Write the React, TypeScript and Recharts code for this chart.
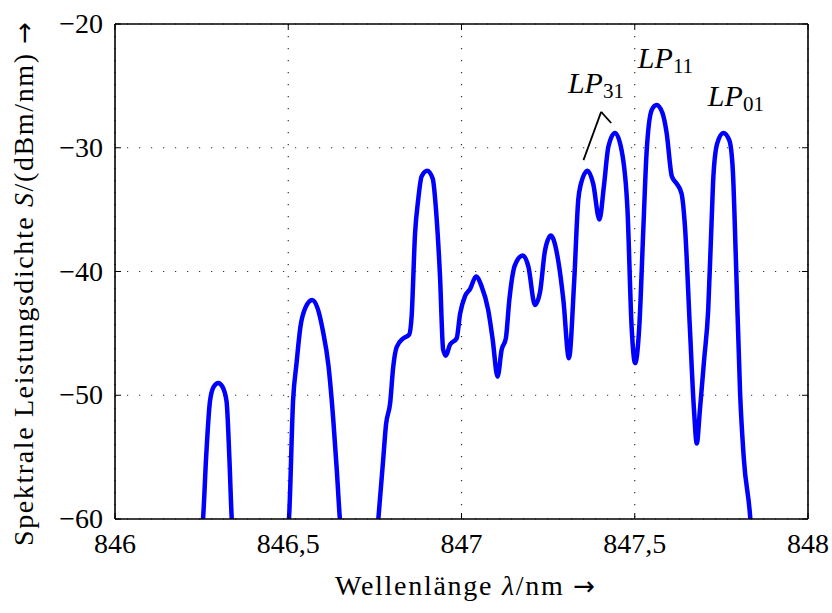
import { LineChart, Line, XAxis, YAxis, CartesianGrid, ReferenceLine, ReferenceDot } from 'recharts';

const FONT = '"Liberation Serif", "Times New Roman", serif';
const ARROW_FONT = '"DejaVu Sans", sans-serif';

// Wellenlänge in nm, null = Lücke (Signal unter -60 dBm/nm)
const wavelength = [
    846.250, 846.254, 846.263, 846.274, 846.285, 846.298, 846.310, 846.322, 846.330, 846.337, 846.340,
    846.420,
    846.498, 846.502, 846.514, 846.524, 846.535, 846.550, 846.569, 846.585, 846.600, 846.616, 846.630, 846.640, 846.649, 846.652,
    846.700,
    846.757, 846.760, 846.774, 846.782, 846.794, 846.803, 846.813, 846.832, 846.849, 846.856, 846.866, 846.875, 846.885,
    846.901, 846.917, 846.928, 846.938, 846.947, 846.955, 846.967, 846.986, 846.996, 847.010, 847.025, 847.042, 847.058,
    847.077, 847.090, 847.104, 847.116, 847.128, 847.138, 847.154, 847.177, 847.193, 847.212, 847.227, 847.241, 847.258,
    847.279, 847.294, 847.310, 847.325, 847.337, 847.343, 847.364, 847.380, 847.398, 847.411, 847.424, 847.443, 847.462,
    847.479, 847.491, 847.501, 847.513, 847.525, 847.534, 847.549, 847.563, 847.580, 847.592, 847.607, 847.621, 847.635,
    847.645, 847.659, 847.671, 847.679, 847.688, 847.700, 847.712, 847.722, 847.727, 847.738, 847.756, 847.773, 847.783,
    847.792, 847.804, 847.815, 847.833, 847.836,
];

// Spektrale Leistungsdichte in dBm/nm
const density = [
    -61, -60, -55, -50.5, -49.3, -49.0, -49.3, -50.5, -55, -60, -61,
    null,
    -61, -60, -50.4, -47.4, -44.5, -42.9, -42.3, -43.0, -44.8, -47.6, -52, -56, -60, -61,
    null,
    -61, -60, -55.2, -52.4, -50.65, -47.7, -46.1, -45.4, -45.1, -43.65, -36.9, -34.2, -32.3,
    -31.85, -32.5, -35.6, -40.4, -46.3, -46.8, -45.9, -45.4, -43.4, -42.0, -41.4, -40.4, -41.2,
    -43.1, -45.5, -48.5, -46.3, -45.4, -42.3, -39.5, -38.7, -39.6, -42.7, -41.6, -38.3, -37.1,
    -39.1, -42.3, -47.0, -40.9, -34.2, -33.1, -31.85, -32.9, -35.8, -33.1, -29.9, -28.8, -30.2,
    -35.0, -44.5, -47.4, -44.5, -36.4, -30.45, -26.95, -26.55, -27.2, -28.8, -32.3, -32.9, -33.7,
    -36.4, -44.5, -51.2, -53.9, -51.2, -47.2, -43.1, -35.8, -32.3, -29.65, -28.8, -29.4, -31.8,
    -39.1, -49.8, -55.2, -59.8, -61,
];

const xTicks = [846, 846.5, 847, 847.5, 848];
const yTicks = [-60, -50, -40, -30, -20];

const modeNames = ['31', '11', '01'];
const modeX = [847.307, 847.509, 847.711];
const modeY = [-25.58, -23.56, -26.63];

// Zuordnungsstrich für LP31
const caretX = [847.352, 847.403, 847.432];
const caretY = [-31.0, -27.1, -28.0];

const data = wavelength.map((w, i) => ({ w, s: density[i] }));

const fmtX = (v: number) => String(v).replace('.', ',');
const fmtY = (v: number) => (v < 0 ? '\u2212' + Math.abs(v) : String(v));

const BottomTick = ({ x, y, payload }: any) => (
    <g>
        <line x1={x} y1={y} x2={x} y2={y - 6} stroke="#000" strokeWidth={1} />
        <text x={x} y={y + 34} textAnchor="middle" fontFamily={FONT} fontSize={28} fill="#000">
            {fmtX(payload.value)}
        </text>
    </g>
);

const TopTick = ({ x, y }: any) => (
    <line x1={x} y1={y} x2={x} y2={y + 6} stroke="#000" strokeWidth={1} />
);

const LeftTick = ({ x, y, payload }: any) => (
    <g>
        <line x1={x} y1={y} x2={x + 6} y2={y} stroke="#000" strokeWidth={1} />
        <text x={x - 12} y={y + 9} textAnchor="end" fontFamily={FONT} fontSize={28} fill="#000">
            {fmtY(payload.value)}
        </text>
    </g>
);

const RightTick = ({ x, y }: any) => (
    <line x1={x} y1={y} x2={x - 6} y2={y} stroke="#000" strokeWidth={1} />
);

const modeLabel = (sub: string) => (props: any) => (
    <text x={props.cx} y={props.cy} fontFamily={FONT} fontSize={30} fill="#000">
        <tspan fontStyle="italic">LP</tspan>
        <tspan fontSize={21} dy={5}>{sub}</tspan>
    </text>
);

export default function App() {
    return (
        <div style={{ position: 'absolute', left: 0, top: 0, width: 832, height: 613, background: '#fff' }}>
            <LineChart width={832} height={613} data={data} margin={{ top: 20, right: 20, bottom: 64, left: 55 }}>
                <CartesianGrid stroke="#333" strokeDasharray="1.2 10.8" strokeWidth={1.2} />
                <XAxis
                    dataKey="w"
                    type="number"
                    domain={[846, 848]}
                    ticks={xTicks}
                    interval={0}
                    height={30}
                    tickSize={0}
                    tickMargin={0}
                    tickLine={false}
                    tick={BottomTick}
                    axisLine={{ stroke: '#000', strokeWidth: 1.6 }}
                    allowDataOverflow
                />
                <XAxis
                    xAxisId="top"
                    orientation="top"
                    dataKey="w"
                    type="number"
                    domain={[846, 848]}
                    ticks={xTicks}
                    interval={0}
                    height={4}
                    tickSize={0}
                    tickMargin={0}
                    tickLine={false}
                    tick={TopTick}
                    axisLine={{ stroke: '#000', strokeWidth: 1.6 }}
                    allowDataOverflow
                />
                <YAxis
                    type="number"
                    domain={[-60, -20]}
                    ticks={yTicks}
                    interval={0}
                    width={60}
                    tickSize={0}
                    tickMargin={0}
                    tickLine={false}
                    tick={LeftTick}
                    axisLine={{ stroke: '#000', strokeWidth: 1.6 }}
                    allowDataOverflow
                />
                <YAxis
                    yAxisId="right"
                    orientation="right"
                    type="number"
                    domain={[-60, -20]}
                    ticks={yTicks}
                    interval={0}
                    width={4}
                    tickSize={0}
                    tickMargin={0}
                    tickLine={false}
                    tick={RightTick}
                    axisLine={{ stroke: '#000', strokeWidth: 1.6 }}
                    allowDataOverflow
                />
                <Line
                    dataKey="s"
                    type="monotone"
                    stroke="#0000ff"
                    strokeWidth={4.5}
                    strokeLinejoin="round"
                    dot={false}
                    activeDot={false}
                    connectNulls={false}
                    isAnimationActive={false}
                />
                <ReferenceLine
                    segment={[{ x: caretX[0], y: caretY[0] }, { x: caretX[1], y: caretY[1] }]}
                    stroke="#000"
                    strokeWidth={1.8}
                />
                <ReferenceLine
                    segment={[{ x: caretX[1], y: caretY[1] }, { x: caretX[2], y: caretY[2] }]}
                    stroke="#000"
                    strokeWidth={1.8}
                />
                {modeNames.map((m, i) => (
                    <ReferenceDot key={m} x={modeX[i]} y={modeY[i]} r={0} shape={modeLabel(m)} />
                ))}
            </LineChart>
            <svg width={832} height={613} style={{ position: 'absolute', left: 0, top: 0, pointerEvents: 'none' }}>
                <text
                    x={33}
                    y={284}
                    transform="rotate(-90, 33, 284)"
                    textAnchor="middle"
                    fontFamily={FONT}
                    fontSize={28}
                    fill="#000"
                    textLength={524}
                    lengthAdjust="spacing"
                >
                    Spektrale Leistungsdichte <tspan fontStyle="italic">S</tspan>/(dBm/nm){' '}
                    <tspan fontFamily={ARROW_FONT} fontSize={26}>{'\u2192'}</tspan>
                </text>
                <text
                    x={465}
                    y={595}
                    textAnchor="middle"
                    fontFamily={FONT}
                    fontSize={28}
                    fill="#000"
                    textLength={260}
                    lengthAdjust="spacing"
                >
                    Wellenlänge <tspan fontStyle="italic">λ</tspan>/nm{' '}
                    <tspan fontFamily={ARROW_FONT} fontSize={26}>{'\u2192'}</tspan>
                </text>
            </svg>
        </div>
    );
}
